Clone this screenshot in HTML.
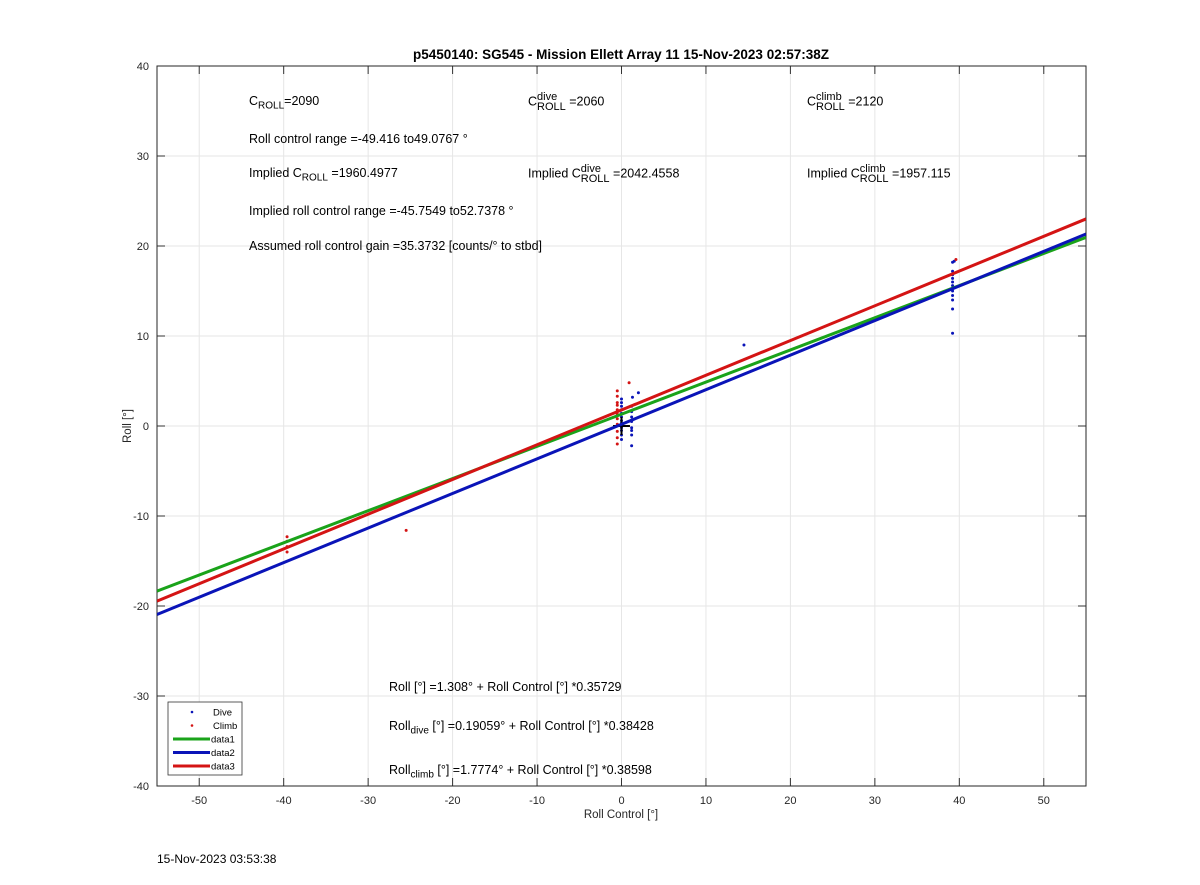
<!DOCTYPE html>
<html><head><meta charset="utf-8"><style>
body{margin:0;background:#fff;font-family:"Liberation Sans",Arial,sans-serif;}
#wrap{position:relative;width:1200px;height:885px;overflow:hidden;}
.t{position:absolute;font-size:12.5px;color:#000;white-space:nowrap;}
.ss{display:inline-block;vertical-align:middle;line-height:10px;font-size:11px;text-align:left;}
sub{font-size:10px;}
</style></head><body>
<div id="wrap">
<svg id="svg" width="1200" height="885" style="position:absolute;left:0;top:0"></svg>
<div class="t" style="left:249px;top:94px">C<sub>ROLL</sub>=2090</div>
<div class="t" style="left:528px;top:92px">C<span class="ss">dive<br>ROLL</span> =2060</div>
<div class="t" style="left:807px;top:92px">C<span class="ss">climb<br>ROLL</span> =2120</div>
<div class="t" style="left:249px;top:132px">Roll control range =-49.416 to49.0767 °</div>
<div class="t" style="left:249px;top:166px">Implied C<sub>ROLL</sub> =1960.4977</div>
<div class="t" style="left:528px;top:164px">Implied C<span class="ss">dive<br>ROLL</span> =2042.4558</div>
<div class="t" style="left:807px;top:164px">Implied C<span class="ss">climb<br>ROLL</span> =1957.115</div>
<div class="t" style="left:249px;top:204px">Implied roll control range =-45.7549 to52.7378 °</div>
<div class="t" style="left:249px;top:239px">Assumed roll control gain =35.3732 [counts/° to stbd]</div>
<div class="t" style="left:389px;top:680px">Roll [°] =1.308° + Roll Control [°] *0.35729</div>
<div class="t" style="left:389px;top:719px">Roll<sub>dive</sub> [°] =0.19059° + Roll Control [°] *0.38428</div>
<div class="t" style="left:389px;top:763px">Roll<sub>climb</sub> [°] =1.7774° + Roll Control [°] *0.38598</div>
<div class="t" style="left:157px;top:852px;font-size:12px">15-Nov-2023 03:53:38</div>
</div>
<script>
const xTicks=[-50,-40,-30,-20,-10,0,10,20,30,40,50];
const yTicks=[-40,-30,-20,-10,0,10,20,30,40];
const diveX=[0,0,0,0,0,0,0,0,0,0,0,0,0,0,1.2,1.2,1.2,1.2,1.2,1.2,1.2,1.2,1.3,2,14.5,39.2,39.2,39.2,39.2,39.2,39.2,39.2,39.2,39.2,39.2,39.2,39.2,39.4];
const diveY=[-1.5,-1,-0.5,0,0.3,0.6,1,1.4,1.8,2.2,2.6,3,-0.2,0.2,-2.2,-1,-0.5,-0.2,0.5,1,1.6,2.2,3.2,3.7,9,10.3,13,14,14.5,15,15.3,15.6,16,16.4,16.8,17.2,18.2,18.3];
const climbX=[-0.5,-0.5,-0.5,-0.5,-0.5,-0.5,-0.5,-0.5,-0.5,-0.5,-0.5,0.9,-39.6,-39.6,-39.6,-39.6,-25.5,39.6];
const climbY=[-2,-1.3,-0.6,0.2,0.8,1.3,1.8,2.3,2.6,3.3,3.9,4.8,-12.3,-12.8,-13.4,-14,-11.6,18.5];
const fitIntercepts=[1.308,0.19059,1.7774];
const fitSlopes=[0.35729,0.38428,0.38598];
const fitColors=['#1aa31a','#0a14b8','#d41414'];
const X0=157,X1=1086,Y0=66,Y1=786,xmin=-55,xmax=55,ymin=-40,ymax=40;
const sx=v=>X0+(v-xmin)/(xmax-xmin)*(X1-X0);
const sy=v=>Y1-(v-ymin)/(ymax-ymin)*(Y1-Y0);
const svg=document.getElementById('svg');const NS='http://www.w3.org/2000/svg';
function mk(t,a,p){const e=document.createElementNS(NS,t);for(const k in a)e.setAttribute(k,a[k]);(p||svg).appendChild(e);return e;}
const bg=mk('rect',{x:X0,y:Y0,width:X1-X0,height:Y1-Y0,fill:'#fff'});


xTicks.forEach(v=>{
 const g=mk('line',{x1:sx(v),x2:sx(v),y1:Y0,y2:Y1,stroke:'#e6e6e6'});
 
 
 mk('line',{x1:sx(v),x2:sx(v),y1:Y1,y2:Y1-8,stroke:'#333'});mk('line',{x1:sx(v),x2:sx(v),y1:Y0,y2:Y0+8,stroke:'#333'});
 const t=mk('text',{x:sx(v),y:Y1+18,'text-anchor':'middle','font-size':11,fill:'#262626'});t.textContent=v;
 
 
});
yTicks.forEach(v=>{
 const g=mk('line',{x1:X0,x2:X1,y1:sy(v),y2:sy(v),stroke:'#e6e6e6'});
 
 
 mk('line',{x1:X0,x2:X0+8,y1:sy(v),y2:sy(v),stroke:'#333'});mk('line',{x1:X1,x2:X1-8,y1:sy(v),y2:sy(v),stroke:'#333'});
 const t=mk('text',{x:X0-8,y:sy(v)+4,'text-anchor':'end','font-size':11,fill:'#262626'});t.textContent=v;
 
 
});
const box=mk('rect',{x:X0,y:Y0,width:X1-X0,height:Y1-Y0,fill:'none',stroke:'#262626'});


const cp=mk('clipPath',{id:'c'});mk('rect',{x:X0,y:Y0,width:X1-X0,height:Y1-Y0},cp);
diveX.forEach((x,i)=>{const c=mk('circle',{cx:sx(x),cy:sy(diveY[i]),r:1.5,fill:'#0a14b8'});
 
 });
climbX.forEach((x,i)=>{const c=mk('circle',{cx:sx(x),cy:sy(climbY[i]),r:1.5,fill:'#d41414'});
 
 });
const pl=mk('path',{d:`M${sx(-1)},${sy(0)}H${sx(1)}M${sx(0)},${sy(-1)}V${sy(1)}`,stroke:'#000','stroke-width':2});


fitSlopes.forEach((m,i)=>{const b=fitIntercepts[i];
 const l=mk('line',{x1:sx(xmin),y1:sy(b+m*xmin),x2:sx(xmax),y2:sy(b+m*xmax),stroke:fitColors[i],'stroke-width':3,'clip-path':'url(#c)'});
 
 });
// legend
const lg=mk('g',{});


mk('rect',{x:168,y:702,width:74,height:73,fill:'#fff',stroke:'#333','stroke-width':0.8},lg);
const legLabels=['Dive','Climb','data1','data2','data3'];
const legCols=['#0a14b8','#d41414'].concat(fitColors);
legLabels.forEach((s,i)=>{const y=712+i*13.5;
 if(i<2)mk('circle',{cx:192,cy:y,r:1.3,fill:legCols[i]},lg);else mk('line',{x1:173,x2:210,y1:y,y2:y,stroke:legCols[i],'stroke-width':3},lg);
 const t=mk('text',{x:i<2?213:211,y:y+3.5,'font-size':9.5,fill:'#000'},lg);t.textContent=s;
 
 });
const title=mk('text',{x:621,y:59,'text-anchor':'middle','font-size':13.5,'font-weight':'bold',fill:'#000'});
title.textContent='p5450140: SG545 - Mission Ellett Array 11 15-Nov-2023 02:57:38Z';


const xl=mk('text',{x:621,y:818,'text-anchor':'middle','font-size':11.5,fill:'#262626'});
xl.textContent='Roll Control [°]';


const yl=mk('text',{x:131,y:426,'text-anchor':'middle','font-size':11.5,fill:'#262626',transform:'rotate(-90 131 426)'});
yl.textContent='Roll [°]';


</script>
</body></html>
